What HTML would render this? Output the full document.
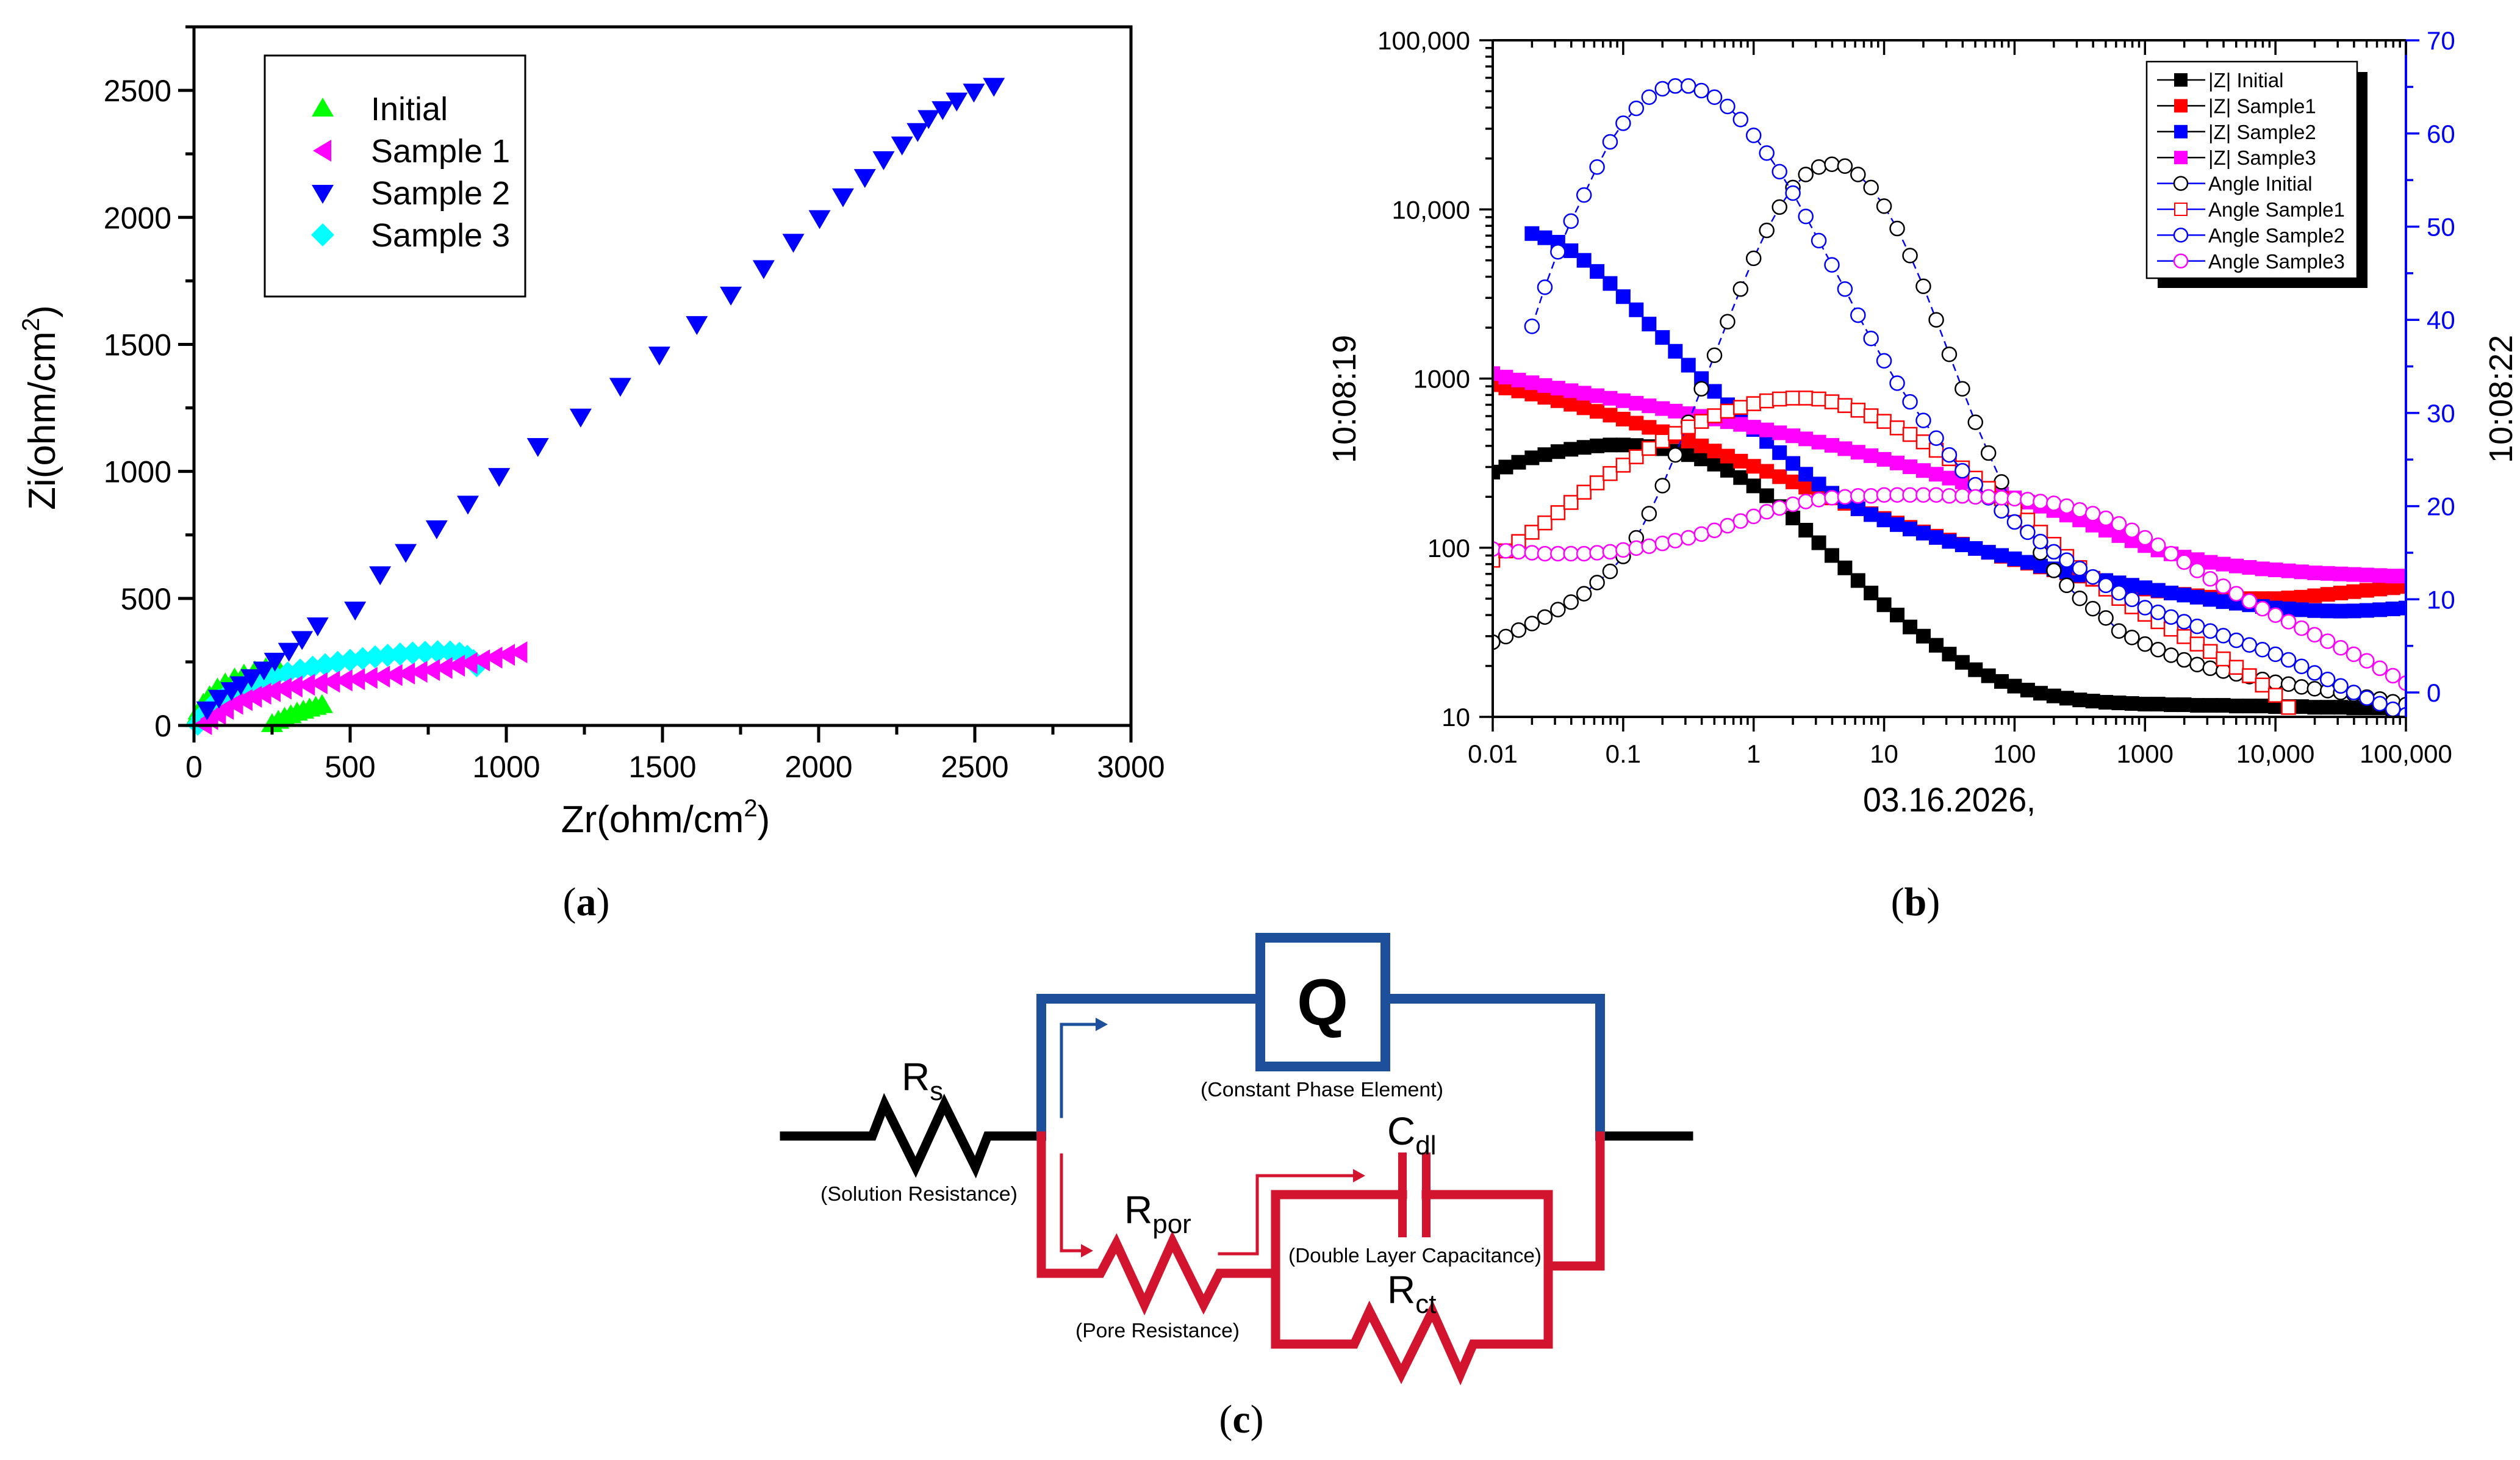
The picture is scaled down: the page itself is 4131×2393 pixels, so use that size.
<!DOCTYPE html>
<html><head><meta charset="utf-8">
<style>
html,body{margin:0;padding:0;background:#fff;}
svg{display:block;}
text{font-family:"Liberation Sans Narrow","Liberation Sans",sans-serif;}
.serif{font-family:"Liberation Serif",serif;}
</style></head>
<body>
<svg id="fig" xmlns="http://www.w3.org/2000/svg" width="4131" height="2393" viewBox="0 0 4131 2393">
<defs>
<clipPath id="clipB"><rect x="2447" y="66" width="1497" height="1109"/></clipPath>
</defs>
<g id="chartA"></g>
<g id="chartB"></g>
<g id="circuit">
 <g fill="none" stroke-linejoin="miter" stroke-linecap="square">
  <polyline points="1286,1862 1430,1862 1450,1810 1501,1913 1548,1810 1599,1913 1619,1862 1707,1862" stroke="#000" stroke-width="15"/>
  <polyline points="2623,1862 2768,1862" stroke="#000" stroke-width="15"/>
  <polyline points="1707,1862 1707,1637 2066,1637" stroke="#1d4f9b" stroke-width="16"/>
  <polyline points="2271,1637 2623,1637 2623,1862" stroke="#1d4f9b" stroke-width="16"/>
  <rect x="2066" y="1537" width="205" height="211" stroke="#1d4f9b" stroke-width="16"/>
  <polyline points="1740,1830 1740,1679 1805,1679" stroke="#1d4f9b" stroke-width="5"/>
  <polyline points="1707,1862 1707,2087 1804,2087 1830,2038 1876,2138 1922,2035 1973,2138 1999,2087 2091,2087" stroke="#d2142e" stroke-width="15"/>
  <polyline points="2091,2087 2091,1958 2299,1958" stroke="#d2142e" stroke-width="15"/>
  <polyline points="2338,1958 2538,1958 2538,2203 2415,2203 2394,2252 2348,2149 2297,2252 2245,2149 2220,2203 2091,2203 2091,2087" stroke="#d2142e" stroke-width="15"/>
  <polyline points="2538,2075 2623,2075 2623,1862" stroke="#d2142e" stroke-width="15"/>
  <line x1="2299" y1="1896" x2="2299" y2="2021" stroke="#d2142e" stroke-width="14"/>
  <line x1="2338" y1="1896" x2="2338" y2="2021" stroke="#d2142e" stroke-width="14"/>
  <polyline points="1740,1893 1740,2050 1782,2050" stroke="#d2142e" stroke-width="5"/>
  <polyline points="1999,2055 2061,2055 2061,1927 2226,1927" stroke="#d2142e" stroke-width="5"/>
 </g>
 <polygon points="1816,1679 1796,1668 1796,1690" fill="#1d4f9b"/>
 <polygon points="1792,2050 1772,2039 1772,2061" fill="#d2142e"/>
 <polygon points="2238,1927 2218,1916 2218,1938" fill="#d2142e"/>
 <text x="1478" y="1787" font-size="64">R<tspan font-size="44" dy="16">s</tspan></text>
 <text x="1345" y="1968" font-size="33" textLength="323" lengthAdjust="spacingAndGlyphs">(Solution Resistance)</text>
 <text x="2168" y="1680" font-size="108" font-weight="bold" text-anchor="middle">Q</text>
 <text x="1968" y="1797" font-size="33" textLength="398" lengthAdjust="spacingAndGlyphs">(Constant Phase Element)</text>
 <text x="2274" y="1876" font-size="64">C<tspan font-size="44" dy="16">dl</tspan></text>
 <text x="1843" y="2005" font-size="64">R<tspan font-size="44" dy="16">por</tspan></text>
 <text x="2112" y="2069" font-size="33" textLength="415" lengthAdjust="spacingAndGlyphs">(Double Layer Capacitance)</text>
 <text x="2274" y="2136" font-size="64">R<tspan font-size="44" dy="16">ct</tspan></text>
 <text x="1763" y="2192" font-size="33" textLength="269" lengthAdjust="spacingAndGlyphs">(Pore Resistance)</text>
</g>
<text class="serif" x="961" y="1500" font-size="66" text-anchor="middle">(<tspan font-weight="bold">a</tspan>)</text>
<text class="serif" x="3140" y="1500" font-size="66" text-anchor="middle">(<tspan font-weight="bold">b</tspan>)</text>
<text class="serif" x="2035" y="2348" font-size="66" text-anchor="middle">(<tspan font-weight="bold">c</tspan>)</text>
</svg>
<script>
// ---------- Chart (a) data: Nyquist ----------
const nyqInitialX = [5,15,30,50,75,100,130,160,195,230,265,250,270,290,310,330,350,370,390,410];
const nyqInitialY = [25,55,85,115,145,165,185,200,213,225,232,5,18,30,40,50,58,66,73,80];
const nyqS1X = [30,50,75,100,130,160,190,220,250,285,320,360,400,440,480,520,560,600,640,680,720,760,800,840,880,920,960,1000,1040];
const nyqS1Y = [5,25,45,65,85,100,113,125,135,145,153,160,166,172,177,182,187,192,198,204,211,218,226,235,245,256,267,278,288];
const nyqS2X = [42,80,120,150,184,224,259,304,346,396,516,596,678,777,877,977,1101,1238,1365,1490,1610,1719,1824,1919,2003,2078,2148,2208,2267,2317,2352,2397,2442,2497,2561];
const nyqS2Y = [63,109,139,162,190,220,255,294,340,394,456,595,683,776,873,982,1100,1216,1337,1460,1580,1696,1800,1904,1997,2083,2159,2229,2287,2340,2391,2426,2460,2495,2518];
const nyqS3X = [12,25,40,60,80,105,130,160,190,225,260,300,340,380,420,460,500,540,580,620,660,700,740,780,820,850,875,895,905];
const nyqS3Y = [5,30,55,80,100,120,137,152,166,180,193,206,218,229,239,248,256,263,270,276,281,285,288,290,289,284,272,255,235];
const nyqXTicks = [0,500,1000,1500,2000,2500,3000];
const nyqYTicks = [0,500,1000,1500,2000,2500];

// ---------- Chart (b) data: Bode ----------
const freq = [0.01,0.0126,0.0158,0.02,0.0251,0.0316,0.0398,0.0501,0.0631,0.0794,
0.1,0.126,0.158,0.2,0.251,0.316,0.398,0.501,0.631,0.794,
1,1.26,1.58,2,2.51,3.16,3.98,5.01,6.31,7.94,
10,12.6,15.8,20,25.1,31.6,39.8,50.1,63.1,79.4,
100,126,158,200,251,316,398,501,631,794,
1000,1259,1585,1995,2512,3162,3981,5012,6310,7943,
10000,12589,15849,19953,25119,31623,39811,50119,63096,79433,100000];
const zInitial = [280,300,320,340,355,370,382,392,400,405,405,402,396,385,372,355,335,312,287,260,232,203,175,150,127,107,90,76,64,54,46,40,34,30,26.5,23.5,21,19,17.5,16.2,15.2,14.4,13.8,13.3,12.9,12.6,12.4,12.2,12.1,12.0,11.9,11.9,11.8,11.8,11.7,11.7,11.7,11.6,11.6,11.6,11.5,11.5,11.5,11.4,11.4,11.4,11.3,11.3,11.3,11.2,11.2];
const zSample1 = [920,880,845,810,775,740,705,672,640,608,576,545,515,485,455,427,400,373,348,325,303,283,263,245,228,212,197,183,170,159,149,140,132,124,117,111,105,99,94,89,85,81,77,74,71,68,65,63,61,59,57,55.5,54,53,52,51,50.5,50,50,50,50,50.5,51,52,53,54,55,56,57,58,59];
const zSample2 = [null,null,null,7200,6800,6400,5700,5000,4300,3650,3050,2550,2100,1750,1450,1200,1000,840,700,590,500,425,365,315,272,238,210,188,170,157,146,137,129,122,115,109,104,99,94,90,86,82,78,75,72,69,66,64,62,60,58,56,54,52.5,51,49.5,48,47,46,45,44,43.5,43,42.5,42.3,42.2,42.3,42.6,43,43.5,44];
const zSample3 = [1070,1020,980,945,910,878,848,820,792,765,740,715,690,665,642,620,598,577,556,536,516,497,478,459,440,421,403,385,367,350,333,317,301,286,272,258,245,232,220,208,197,186,176,166,156,146,136,127,118,110,103,97,92,88,85,82,80,78,76.5,75,74,73,72,71,70.5,70,69.5,69,68.5,68,68];
const angInitial = [5.4,6.0,6.7,7.4,8.1,8.9,9.7,10.6,11.8,13.0,14.6,16.6,19.2,22.2,25.5,29.0,32.6,36.2,39.8,43.3,46.6,49.6,52.1,54.2,55.6,56.4,56.7,56.5,55.6,54.2,52.2,49.8,46.9,43.6,40.0,36.3,32.6,29.0,25.7,22.6,19.8,17.3,15.0,13.1,11.5,10.1,9.0,8.0,6.6,5.9,5.2,4.6,4.0,3.5,3.0,2.6,2.3,2.0,1.7,1.4,1.1,0.9,0.6,0.4,0.2,0.0,-0.2,-0.5,-0.7,-1.0,-1.3];
const angSample1 = [14.2,15.2,16.2,17.2,18.2,19.3,20.4,21.5,22.5,23.5,24.4,25.3,26.2,27.0,27.8,28.5,29.1,29.7,30.2,30.6,31.0,31.3,31.5,31.6,31.6,31.5,31.2,30.8,30.3,29.7,29.1,28.4,27.7,26.9,26.0,25.1,24.1,23.0,21.9,20.8,19.7,18.5,17.2,15.9,14.6,13.4,12.2,11.1,10.1,9.2,8.4,7.6,6.8,6.0,5.2,4.4,3.6,2.7,1.8,0.8,-0.3,-1.6,null,null,null,null,null,null,null,null,null];
const angSample2 = [null,null,null,39.3,43.5,47.3,50.6,53.4,56.4,59.1,61.1,62.7,63.9,64.8,65.1,65.1,64.6,63.9,62.9,61.5,59.8,57.9,55.9,53.6,51.1,48.5,45.9,43.3,40.5,38.0,35.6,33.2,31.2,29.2,27.3,25.5,23.8,22.3,20.9,19.5,18.3,17.2,16.2,15.1,14.2,13.3,12.4,11.5,10.7,10.0,9.1,8.6,8.1,7.6,7.1,6.6,6.1,5.6,5.1,4.6,4.1,3.5,2.8,2.1,1.4,0.7,0.0,-0.6,-1.2,-1.8,-2.4];
const angSample3 = [15.4,15.2,15.1,15.0,14.9,14.9,14.9,14.9,15.0,15.1,15.3,15.5,15.7,16.0,16.3,16.6,17.0,17.4,17.9,18.4,18.9,19.4,19.8,20.2,20.5,20.7,20.9,21.0,21.1,21.1,21.2,21.2,21.2,21.2,21.2,21.1,21.1,21.0,21.0,20.9,20.8,20.7,20.5,20.3,20.0,19.6,19.2,18.7,18.1,17.4,16.6,15.8,14.9,14.0,13.1,12.2,11.4,10.6,9.8,9.0,8.3,7.6,6.9,6.2,5.5,4.8,4.1,3.4,2.6,1.8,1.0];
const bXTickLabels = ["0.01","0.1","1","10","100","1000","10,000","100,000"];
const bYTickLabels = ["10","100","1000","10,000","100,000"];
const bAngleTicks = [0,10,20,30,40,50,60,70];

const NS = "http://www.w3.org/2000/svg";
function mk(tag, attrs, parent){
  const e = document.createElementNS(NS, tag);
  for (const k in attrs) e.setAttribute(k, attrs[k]);
  parent.appendChild(e);
  return e;
}

// ================= Chart A =================
const gA = document.getElementById('chartA');
const A = {l:318, r:1854, t:44, b:1189, xmax:3000, ymax:2750};
function ax(v){ return A.l + v / A.xmax * (A.r - A.l); }
function ay(v){ return A.b - v / A.ymax * (A.b - A.t); }

function markerA(type, cx, cy, color, parent){
  let pts;
  if (type === 'up') pts = [[0,-18],[-18,13],[18,13]];
  else if (type === 'down') pts = [[0,18],[-18,-13],[18,-13]];
  else if (type === 'left') pts = [[-16,0],[14,-18],[14,18]];
  else pts = [[0,-19],[19,0],[0,19],[-19,0]];
  return mk('polygon', {points: pts.map(p => (cx+p[0]) + ',' + (cy+p[1])).join(' '), fill: color}, parent);
}

const seriesA = [
  {xs: nyqInitialX, ys: nyqInitialY, t:'up', c:'#00ff00', n:'initial'},
  {xs: nyqS3X, ys: nyqS3Y, t:'diamond', c:'#00ffff', n:'sample3'},
  {xs: nyqS1X, ys: nyqS1Y, t:'left', c:'#ff00ff', n:'sample1'},
  {xs: nyqS2X, ys: nyqS2Y, t:'down', c:'#0000ff', n:'sample2'}
];
seriesA.forEach(s => {
  const g = mk('g', {}, gA);
  
  
  s.xs.forEach((x, i) => {
    const m = markerA(s.t, ax(x), ay(s.ys[i]), s.c, g);
    
    
  });
});

const frameA = mk('rect', {x:A.l, y:A.t, width:A.r-A.l, height:A.b-A.t, fill:'none', stroke:'#000', 'stroke-width':5}, gA);


for (let v = 0; v <= 3000; v += 250) {
  const major = v % 500 === 0;
  const t = mk('line', {x1:ax(v), x2:ax(v), y1:A.b, y2:A.b + (major ? 28 : 15), stroke:'#000', 'stroke-width':5}, gA);
  
  
}
for (let v = 0; v <= 2750; v += 250) {
  const major = v % 500 === 0;
  const t = mk('line', {x1:A.l, x2:A.l - (major ? 26 : 14), y1:ay(v), y2:ay(v), stroke:'#000', 'stroke-width':5}, gA);
  
  
}
nyqXTicks.forEach(v => {
  const t = mk('text', {x:ax(v), y:1274, 'font-size':50, 'text-anchor':'middle'}, gA);
  t.textContent = v;
  
  
});
nyqYTicks.forEach(v => {
  const t = mk('text', {x:281, y:ay(v) + 18, 'font-size':50, 'text-anchor':'end'}, gA);
  t.textContent = v;
  
  
});
const xTitleA = mk('text', {x:1091, y:1364, 'font-size':62, 'text-anchor':'middle'}, gA);
xTitleA.innerHTML = 'Zr(ohm/cm<tspan font-size="40" dy="-26">2</tspan><tspan dy="26">)</tspan>';


const yTitleA = mk('text', {x:0, y:0, 'font-size':62, 'text-anchor':'middle', transform:'translate(90,668) rotate(-90)'}, gA);
yTitleA.innerHTML = 'Zi(ohm/cm<tspan font-size="40" dy="-26">2</tspan><tspan dy="26">)</tspan>';



const legA = mk('g', {}, gA);


const legBoxA = mk('rect', {x:434, y:91, width:427, height:395, fill:'#fff', stroke:'#000', 'stroke-width':3}, legA);


const legItemsA = [['up','#00ff00','Initial'],['left','#ff00ff','Sample 1'],['down','#0000ff','Sample 2'],['diamond','#00ffff','Sample 3']];
legItemsA.forEach((it, i) => {
  const cy = 178 + i * 69;
  const m = markerA(it[0], 529, cy, it[1], legA);
  
  
  const t = mk('text', {x:608, y:cy + 19, 'font-size':54, 'font-family':'Liberation Sans, sans-serif'}, legA);
  t.textContent = it[2];
  
  
});

// ================= Chart B =================
const gB = document.getElementById('chartB');
const B = {l:2447, r:3944, t:66, b:1175};
function bx(f){ return B.l + (Math.log10(f) + 2) * (B.r - B.l) / 7; }
function byZ(v){ return B.b - (Math.log10(v) - 1) * (B.b - B.t) / 4; }
function byA(a){ return 1135 - a * 15.27; }

const plotB = mk('g', {'clip-path':'url(#clipB)'}, gB);



const zSeries = [
  {v:zInitial, c:'#000000', n:'z-initial'},
  {v:zSample1, c:'#ff0000', n:'z-sample1'},
  {v:zSample2, c:'#0000ff', n:'z-sample2'},
  {v:zSample3, c:'#ff00ff', n:'z-sample3'}
];
const aSeries = [
  {v:angInitial, c:'#000000', n:'angle-initial', sq:false},
  {v:angSample1, c:'#ff0000', n:'angle-sample1', sq:true},
  {v:angSample2, c:'#0000ff', n:'angle-sample2', sq:false},
  {v:angSample3, c:'#ff00ff', n:'angle-sample3', sq:false}
];
zSeries.forEach(s => {
  const g = mk('g', {}, plotB);
  
  
  const pts = [];
  freq.forEach((f, i) => { if (s.v[i] != null) pts.push(bx(f) + ',' + byZ(s.v[i])); });
  const ln = mk('polyline', {points: pts.join(' '), fill:'none', stroke:s.c, 'stroke-width':2}, g);
  
  
  freq.forEach((f, i) => {
    if (s.v[i] == null) return;
    const r = mk('rect', {x:bx(f) - 12, y:byZ(s.v[i]) - 12, width:24, height:24, fill:s.c}, g);
    
    
  });
});
aSeries.forEach(s => {
  const g = mk('g', {}, plotB);
  
  
  const pts = [];
  freq.forEach((f, i) => { if (s.v[i] != null) pts.push(bx(f) + ',' + byA(s.v[i])); });
  const ln = mk('polyline', {points: pts.join(' '), fill:'none', stroke:'#0000ff', 'stroke-width':2.5, 'stroke-dasharray':'12 8'}, g);
  
  
  freq.forEach((f, i) => {
    if (s.v[i] == null) return;
    let m;
    if (s.sq) m = mk('rect', {x:bx(f) - 11, y:byA(s.v[i]) - 11, width:22, height:22, fill:'#fff', stroke:s.c, 'stroke-width':2.5}, g);
    else m = mk('circle', {cx:bx(f), cy:byA(s.v[i]), r:11.5, fill:'#fff', stroke:s.c, 'stroke-width':2.5}, g);
    
    
  });
});

const axB = mk('path', {d:`M${B.l},${B.t} H${B.r} M${B.l},${B.t} V${B.b} H${B.r}`, fill:'none', stroke:'#000', 'stroke-width':4}, gB);


const rAx = mk('line', {x1:B.r, x2:B.r, y1:B.t, y2:B.b, stroke:'#0000ff', 'stroke-width':4}, gB);


for (let d = -2; d <= 5; d++) {
  for (let k = 1; k <= 9; k++) {
    if (d === 5 && k > 1) break;
    const f = k * Math.pow(10, d);
    const major = k === 1;
    const b1 = mk('line', {x1:bx(f), x2:bx(f), y1:B.b, y2:B.b + (major ? 24 : 13), stroke:'#000', 'stroke-width':3.5}, gB);
    
    
    const b2 = mk('line', {x1:bx(f), x2:bx(f), y1:B.t, y2:B.t + (major ? 24 : 12), stroke:'#000', 'stroke-width':3.5}, gB);
    
    
  }
}
for (let d = 1; d <= 5; d++) {
  for (let k = 1; k <= 9; k++) {
    if (d === 5 && k > 1) break;
    const v = k * Math.pow(10, d);
    const major = k === 1;
    const t = mk('line', {x1:B.l, x2:B.l - (major ? 22 : 12), y1:byZ(v), y2:byZ(v), stroke:'#000', 'stroke-width':3.5}, gB);
    
    
  }
}
for (let a = 0; a <= 70; a += 5) {
  const major = a % 10 === 0;
  const t = mk('line', {x1:B.r, x2:B.r + (major ? 22 : 12), y1:byA(a), y2:byA(a), stroke:'#0000ff', 'stroke-width':3.5}, gB);
  
  
}
bXTickLabels.forEach((s, i) => {
  const t = mk('text', {x:bx(Math.pow(10, i - 2)), y:1250, 'font-size':42, 'text-anchor':'middle'}, gB);
  t.textContent = s;
  
  
});
bYTickLabels.forEach((s, i) => {
  const t = mk('text', {x:2410, y:byZ(Math.pow(10, i + 1)) + 15, 'font-size':42, 'text-anchor':'end'}, gB);
  t.textContent = s;
  
  
});
bAngleTicks.forEach(a => {
  const t = mk('text', {x:3978, y:byA(a) + 15, 'font-size':42, fill:'#0000ff'}, gB);
  t.textContent = a;
  
  
});
const xtB = mk('text', {x:3054, y:1330, 'font-size':56, textLength:283, lengthAdjust:'spacingAndGlyphs'}, gB);
xtB.textContent = '03.16.2026,';


const ytB = mk('text', {x:0, y:0, 'font-size':54, 'text-anchor':'middle', transform:'translate(2222,654) rotate(-90)'}, gB);
ytB.textContent = '10:08:19';


const ytB2 = mk('text', {x:0, y:0, 'font-size':54, 'text-anchor':'middle', transform:'translate(4118,654) rotate(-90)'}, gB);
ytB2.textContent = '10:08:22';



const legB = mk('g', {}, gB);


const sh = mk('rect', {x:3537, y:118, width:344, height:354, fill:'#000'}, legB);


const lb = mk('rect', {x:3519, y:101, width:345, height:355, fill:'#fff', stroke:'#000', 'stroke-width':2.5}, legB);


const legItemsB = [
  ['#000','#000','sq','|Z| Initial'],['#000','#ff0000','sq','|Z| Sample1'],['#000','#0000ff','sq','|Z| Sample2'],['#000','#ff00ff','sq','|Z| Sample3'],
  ['#0000ff','#000','oc','Angle Initial'],['#0000ff','#ff0000','os','Angle Sample1'],['#0000ff','#0000ff','oc','Angle Sample2'],['#0000ff','#ff00ff','oc','Angle Sample3']
];
legItemsB.forEach((it, i) => {
  const cy = 131 + i * 42.4;
  const l = mk('line', {x1:3536, x2:3615, y1:cy, y2:cy, stroke:it[0], 'stroke-width':2.5}, legB);
  
  
  let m;
  if (it[2] === 'sq') m = mk('rect', {x:3564, y:cy - 11, width:22, height:22, fill:it[1]}, legB);
  else if (it[2] === 'os') m = mk('rect', {x:3565, y:cy - 10, width:20, height:20, fill:'#fff', stroke:it[1], 'stroke-width':2}, legB);
  else m = mk('circle', {cx:3575, cy:cy, r:11, fill:'#fff', stroke:it[1], 'stroke-width':2.5}, legB);
  
  
  const t = mk('text', {x:3620, y:cy + 12, 'font-size':33}, legB);
  t.textContent = it[3];
  
  
});
</script>
</body></html>
